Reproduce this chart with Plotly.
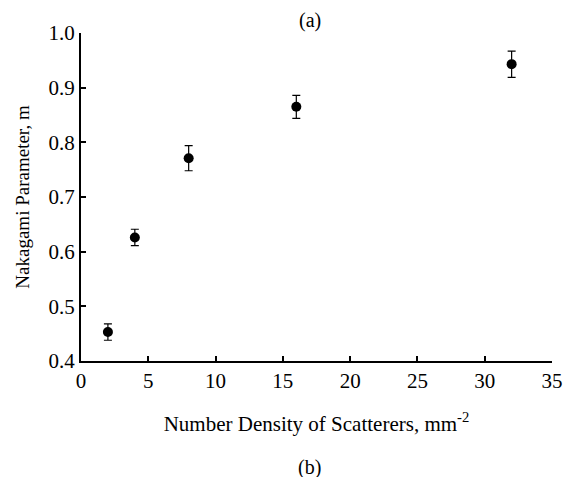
import plotly.graph_objects as go

density = [2, 4, 8, 16, 32]
nakagami_m = [0.453, 0.626, 0.771, 0.865, 0.943]
err = [0.015, 0.015, 0.023, 0.021, 0.024]
x_ticks = [0, 5, 10, 15, 20, 25, 30, 35]
y_ticks = [0.4, 0.5, 0.6, 0.7, 0.8, 0.9, 1.0]

FONT = "Liberation Serif, Times New Roman, serif"

fig = go.Figure(go.Scatter(
    x=density, y=nakagami_m, mode="markers",
    marker=dict(color="black", size=10, symbol="circle"),
    error_y=dict(type="data", array=err, visible=True, color="black", thickness=1.2, width=4),
    showlegend=False,
))

fig.update_layout(
    width=566, height=477,
    margin=dict(l=81, r=14, t=33, b=116),
    paper_bgcolor="white", plot_bgcolor="white",
    font=dict(family=FONT, size=20, color="black"),
    xaxis=dict(range=[0, 35], tickvals=x_ticks, ticks="inside", ticklen=5, tickwidth=2,
               tickcolor="black", showline=True, linecolor="black", linewidth=2,
               showgrid=False, zeroline=False, automargin=False,
               tickfont=dict(family=FONT, size=21),
               title=dict(text="Number Density of Scatterers, mm<sup>-2</sup>", standoff=24,
                          font=dict(family=FONT, size=21))),
    yaxis=dict(range=[0.4, 1.0], tickvals=y_ticks, tickformat=".1f", ticks="inside", ticklen=5,
               tickwidth=2, tickcolor="black", showline=True, linecolor="black", linewidth=2,
               showgrid=False, zeroline=False, automargin=False,
               tickfont=dict(family=FONT, size=21),
               title=dict(text="Nakagami Parameter, m", standoff=14,
                          font=dict(family=FONT, size=19))),
    annotations=[
        dict(text="(a)", x=0.5, y=1.0, xref="paper", yref="paper", xshift=-7, yshift=13,
             yanchor="middle", showarrow=False, font=dict(family=FONT, size=20)),
        dict(text="(b)", x=0.5, y=0, xref="paper", yref="paper", xshift=-7, yshift=-106,
             yanchor="middle", showarrow=False, font=dict(family=FONT, size=20)),
    ],
)

fig.write_html("out.html", config={"displayModeBar": False},
               post_script="document.body.style.margin='0';document.body.style.overflow='hidden';")
